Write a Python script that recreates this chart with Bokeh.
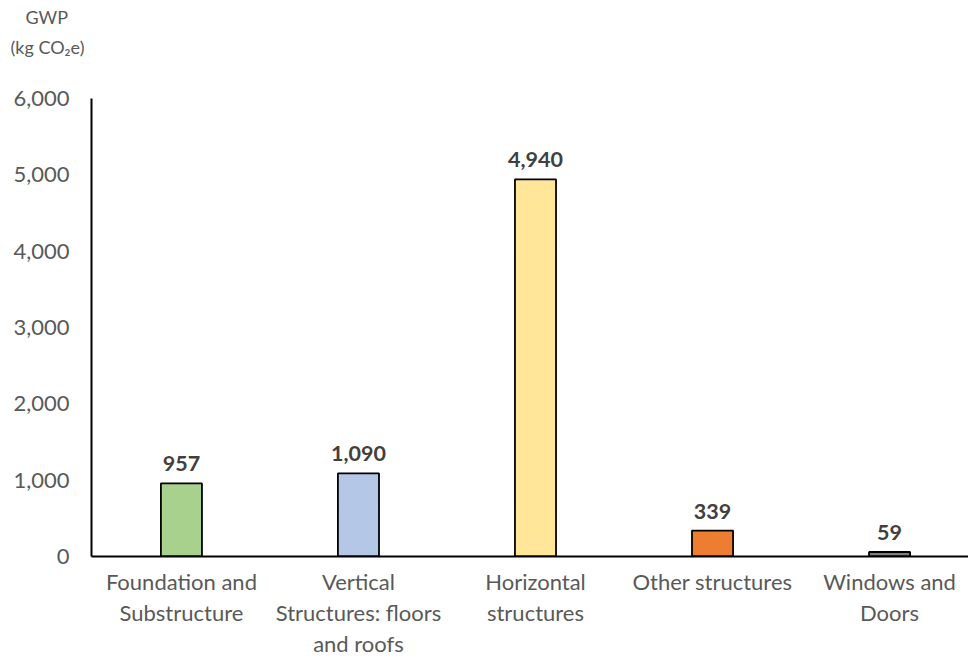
from bokeh.plotting import figure
from bokeh.models import ColumnDataSource, FixedTicker, Range1d, Title
from bokeh.embed import file_html
from bokeh.resources import INLINE
from bokeh.core.properties import value

# Embodied carbon by building element
categories = [
    "Foundation and\nSubstructure",
    "Vertical\nStructures: floors\nand roofs",
    "Horizontal\nstructures",
    "Other structures",
    "Windows and\nDoors",
]
gwp = [957, 1090, 4940, 339, 59]
bar_colors = ["#A9D18E", "#B4C7E7", "#FFE699", "#ED7D31", "#7F7F7F"]
y_ticks = [0, 1000, 2000, 3000, 4000, 5000, 6000]

FONT = "Lato"
TEXT_GREY = "#595959"

positions = list(range(len(categories)))
labels = [f"{v:,}" for v in gwp]

source = ColumnDataSource(dict(x=positions, top=gwp, color=bar_colors, label=labels))

p = figure(
    width=968, height=659,
    x_range=Range1d(-0.508, 4.446),
    y_range=Range1d(0, 6000),
    output_backend="svg",
    toolbar_location=None,
    min_border_left=91, min_border_right=0,
    min_border_top=98, min_border_bottom=103,
)
p.outline_line_color = None
p.grid.visible = False
p.background_fill_color = "white"
p.border_fill_color = "white"

p.vbar(x="x", top="top", width=0.232, bottom=0, source=source,
       fill_color="color", line_color="black", line_width=1.8)

p.text(x="x", y="top", text="label", source=source,
       text_align="center", text_baseline="bottom", y_offset=-12,
       text_font=value(FONT), text_font_style="bold",
       text_font_size="21.5px", text_color="#404040")

# y axis
ya = p.yaxis[0]
ya.ticker = FixedTicker(ticks=y_ticks)
ya.major_label_overrides = {t: f"{t:,}" for t in y_ticks}
ya.axis_line_color = "black"
ya.axis_line_width = 2
ya.major_tick_line_color = None
ya.minor_tick_line_color = None
ya.major_label_standoff = 16
ya.major_label_text_font = FONT
ya.major_label_text_font_size = "22px"
ya.major_label_text_color = TEXT_GREY

# x axis
xa = p.xaxis[0]
xa.ticker = FixedTicker(ticks=positions)
xa.major_label_overrides = {i: c for i, c in zip(positions, categories)}
xa.axis_line_color = "black"
xa.axis_line_width = 2
xa.major_tick_line_color = None
xa.minor_tick_line_color = None
xa.major_label_standoff = 5
xa.major_label_text_font = FONT
xa.major_label_text_font_size = "22px"
xa.major_label_text_color = TEXT_GREY
xa.major_label_text_line_height = 1.15

# unit caption above the y axis: panels stack upward from the frame
caption_style = dict(text_font=FONT, text_font_size="18px",
                     text_font_style="normal", text_color=TEXT_GREY)
gap_above_frame = Title(text=" ", text_font_size="10px", standoff=28)
unit_line = Title(text="(kg CO₂e)", align="left", offset=-81, standoff=0,
                  vertical_align="bottom", **caption_style)
gwp_line = Title(text="GWP", align="left", offset=-66, standoff=8,
                 vertical_align="top", **caption_style)
p.add_layout(gap_above_frame, "above")
p.add_layout(unit_line, "above")
p.add_layout(gwp_line, "above")

open("out.html", "w").write(file_html(p, INLINE))
